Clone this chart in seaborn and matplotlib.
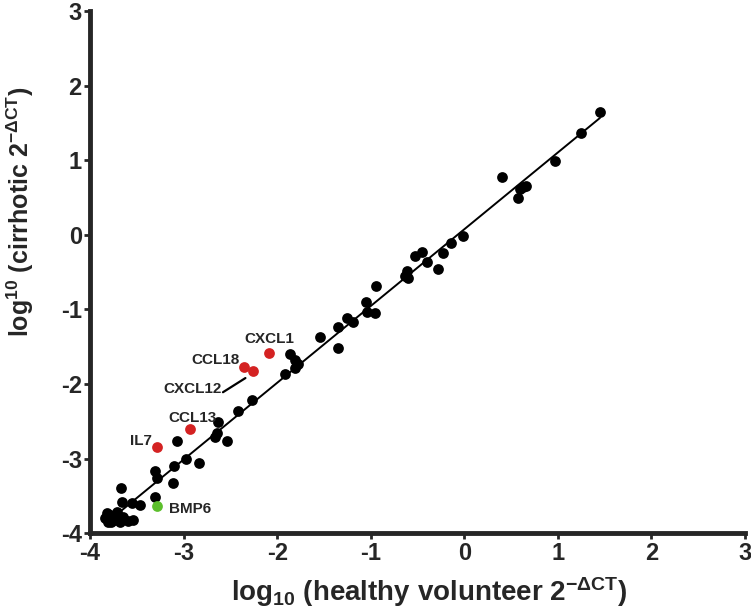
import matplotlib
matplotlib.use('Agg')
import matplotlib.pyplot as plt
import seaborn as sns
import pandas as pd

# log10 values
healthy = [1.45, 1.25, 0.97, 0.40, 0.63, 0.66, 0.57, 0.60, -0.01, -0.14,
           -0.23, -0.28, -0.40, -0.45, -0.53, -0.60, -0.63, -0.61, -0.94, -0.96,
           -1.04, -1.05, -1.19, -1.25, -1.35, -1.35, -1.54, -1.86, -1.81, -1.78,
           -1.81, -1.92, -2.27, -2.42, -2.63, -2.64, -2.66, -2.54, -3.07, -2.97,
           -3.10, -2.84, -3.31, -3.28, -3.11, -3.67, -3.31, -3.66, -3.55, -3.47,
           -3.84, -3.81, -3.79, -3.75, -3.71, -3.68, -3.65, -3.60, -3.54, -3.78,
           -3.72, -3.82]
cirrhotic = [1.65, 1.36, 0.99, 0.77, 0.64, 0.66, 0.49, 0.62, -0.01, -0.11,
             -0.24, -0.46, -0.36, -0.23, -0.28, -0.58, -0.55, -0.49, -0.69, -1.05,
             -1.03, -0.90, -1.17, -1.12, -1.24, -1.52, -1.37, -1.60, -1.68, -1.73,
             -1.79, -1.87, -2.22, -2.36, -2.51, -2.66, -2.71, -2.76, -2.76, -3.01,
             -3.10, -3.06, -3.17, -3.26, -3.33, -3.39, -3.51, -3.58, -3.60, -3.62,
             -3.80, -3.85, -3.76, -3.82, -3.72, -3.85, -3.78, -3.83, -3.82, -3.85,
             -3.80, -3.73]

up_genes = ['CXCL1', 'CCL18', 'CXCL12', 'CCL13', 'IL7']
up_healthy = [-2.09, -2.35, -2.26, -2.93, -3.28]
up_cirrhotic = [-1.58, -1.77, -1.83, -2.60, -2.84]

down_genes = ['BMP6']
down_healthy = [-3.28]
down_cirrhotic = [-3.64]

ticks = [-4, -3, -2, -1, 0, 1, 2, 3]

df = pd.DataFrame({'healthy': healthy, 'cirrhotic': cirrhotic})
up = pd.DataFrame({'gene': up_genes, 'healthy': up_healthy, 'cirrhotic': up_cirrhotic})
down = pd.DataFrame({'gene': down_genes, 'healthy': down_healthy, 'cirrhotic': down_cirrhotic})

sns.set_style('ticks')
plt.rcParams['font.family'] = ['Liberation Sans', 'DejaVu Sans']
plt.rcParams['axes.unicode_minus'] = False
plt.rcParams['mathtext.fontset'] = 'custom'
plt.rcParams['mathtext.rm'] = 'Liberation Sans:bold'
plt.rcParams['mathtext.bf'] = 'Liberation Sans:bold'
plt.rcParams['mathtext.it'] = 'Liberation Sans:bold'

fig, ax = plt.subplots(figsize=(7.51, 6.15), dpi=100)
fig.subplots_adjust(left=0.12, right=0.992, top=0.982, bottom=0.133)

sns.regplot(data=df, x='healthy', y='cirrhotic', scatter=False, ci=None,
            truncate=True, color='black', line_kws={'linewidth': 1.4}, ax=ax)
sns.scatterplot(data=df, x='healthy', y='cirrhotic', color='black', s=60,
                edgecolor='black', linewidth=0, ax=ax, zorder=3)
sns.scatterplot(data=up, x='healthy', y='cirrhotic', color='#d42222', s=60,
                edgecolor='#d42222', linewidth=0, ax=ax, zorder=4)
sns.scatterplot(data=down, x='healthy', y='cirrhotic', color='#5cbf2c', s=60,
                edgecolor='#5cbf2c', linewidth=0, ax=ax, zorder=4)

# gene labels
lab = dict(fontsize=11, fontweight='bold', ha='center', va='center')
ax.text(-2.08, -1.40, 'CXCL1', **lab)
ax.text(-2.66, -1.68, 'CCL18', **lab)
ax.text(-2.91, -2.07, 'CXCL12', **lab)
ax.plot([-2.58, -2.34], [-2.11, -1.92], color='black', linewidth=1.6)
ax.text(-2.91, -2.46, 'CCL13', **lab)
ax.text(-3.46, -2.76, 'IL7', **lab)
ax.text(-2.93, -3.68, 'BMP6', **lab)

ax.set_xlim(-4, 3)
ax.set_ylim(-4, 3)
ax.set_xticks(ticks)
ax.set_yticks(ticks)
ax.set_xticklabels([str(t) for t in ticks])
ax.set_yticklabels([str(t) for t in ticks])
ax.tick_params(axis='both', labelsize=17, width=2, length=4, direction='out', pad=2)
for lbl in ax.get_xticklabels() + ax.get_yticklabels():
    lbl.set_fontweight('bold')

sns.despine(ax=ax)
for side in ['left', 'bottom']:
    ax.spines[side].set_linewidth(3.5)

ax.set_xlabel(r'log$_{\mathbf{10}}$ (healthy volunteer 2$^{\mathbf{-\Delta CT}}$)',
              fontsize=20, fontweight='bold')
ax.set_ylabel(r'log$^{\mathbf{10}}$ (cirrhotic 2$^{\mathbf{-\Delta CT}}$)',
              fontsize=18, fontweight='bold')
ax.xaxis.set_label_coords(0.518, -0.08)
ax.yaxis.set_label_coords(-0.083, 0.615)

fig.savefig('out.png', dpi=100)
